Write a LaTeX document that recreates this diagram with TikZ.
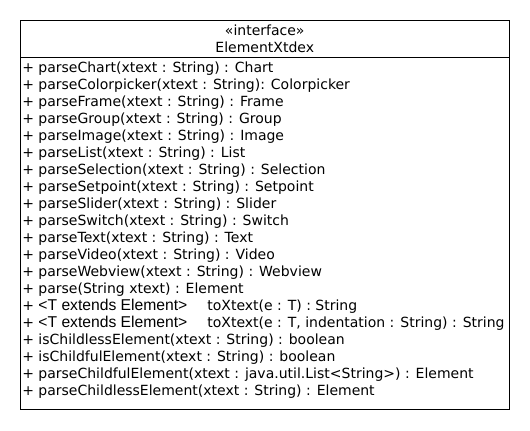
\documentclass[tikz,border=0pt]{standalone}
\usepackage{fontspec}
\setmainfont{DejaVu Sans}
\newfontfamily\gensans{Liberation Sans}
% generic type parameter, set in another face as in the reference
\newcommand{\generic}[1]{{\gensans\fontsize{11.75pt}{12pt}\selectfont #1}\hspace{15pt}}
\begin{document}
\begin{tikzpicture}[x=0.75pt, y=-0.75pt,
  every node/.style={font=\fontsize{10.5pt}{12pt}\selectfont, inner sep=0pt},
  member/.style={anchor=base west}]

\useasboundingbox (0, 0) rectangle (530, 430);

% class box
\draw (20, 20) rectangle (509.5, 409.5);
\draw (20, 57) -- (509.5, 57); % header line

% header
\node[anchor=base] (stereo) at (264.75, 35.5) {«interface»};
\node[anchor=base] (name) at (264.75, 52.5) {ElementXtdex};

% methods
\node[member] (m1) at (22, 72.5) {+ parseChart(xtext : String) : Chart};
\node[member] (m2) at (22, 89.5) {+ parseColorpicker(xtext : String): Colorpicker};
\node[member] (m3) at (22, 106.5) {+ parseFrame(xtext : String) : Frame};
\node[member] (m4) at (22, 123.5) {+ parseGroup(xtext : String) : Group};
\node[member] (m5) at (22, 140.5) {+ parseImage(xtext : String) : Image};
\node[member] (m6) at (22, 157.5) {+ parseList(xtext : String) : List};
\node[member] (m7) at (22, 174.5) {+ parseSelection(xtext : String) : Selection};
\node[member] (m8) at (22, 191.5) {+ parseSetpoint(xtext : String) : Setpoint};
\node[member] (m9) at (22, 208.5) {+ parseSlider(xtext : String) : Slider};
\node[member] (m10) at (22, 225.5) {+ parseSwitch(xtext : String) : Switch};
\node[member] (m11) at (22, 242.5) {+ parseText(xtext : String) : Text};
\node[member] (m12) at (22, 259.5) {+ parseVideo(xtext : String) : Video};
\node[member] (m13) at (22, 276.5) {+ parseWebview(xtext : String) : Webview};
\node[member] (m14) at (22, 293.5) {+ parse(String xtext) : Element};
\node[member] (m15) at (22, 310.5) {+ \generic{<T extends Element>}toXtext(e : T) : String};
\node[member] (m16) at (22, 327.5) {+ \generic{<T extends Element>}toXtext(e : T, indentation : String) : String};
\node[member] (m17) at (22, 344.5) {+ isChildlessElement(xtext : String) : boolean};
\node[member] (m18) at (22, 361.5) {+ isChildfulElement(xtext : String) : boolean};
\node[member] (m19) at (22, 378.5) {+ parseChildfulElement(xtext : java.util.List<String>) : Element};
\node[member] (m20) at (22, 395.5) {+ parseChildlessElement(xtext : String) : Element};

\end{tikzpicture}
\end{document}
